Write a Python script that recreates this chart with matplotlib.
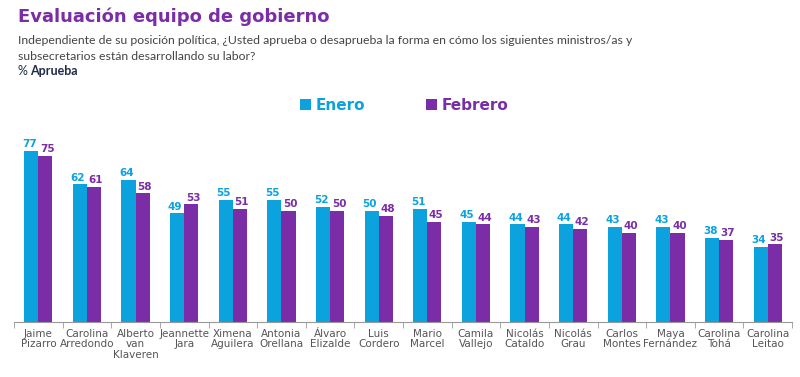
import numpy as np
import matplotlib.pyplot as plt

nombres = ["Jaime\nPizarro", "Carolina\nArredondo", "Alberto\nvan\nKlaveren", "Jeannette\nJara",
           "Ximena\nAguilera", "Antonia\nOrellana", "Álvaro\nElizalde", "Luis\nCordero",
           "Mario\nMarcel", "Camila\nVallejo", "Nicolás\nCataldo", "Nicolás\nGrau",
           "Carlos\nMontes", "Maya\nFernández", "Carolina\nTohá", "Carolina\nLeitao"]
enero = [77, 62, 64, 49, 55, 55, 52, 50, 51, 45, 44, 44, 43, 43, 38, 34]
febrero = [75, 61, 58, 53, 51, 50, 50, 48, 45, 44, 43, 42, 40, 40, 37, 35]

AZUL = "#0BA2DE"
MORADO = "#7A2DA6"

fig = plt.figure(figsize=(8, 3.77), dpi=100)
ax = fig.add_axes([0.0175, 0.146, 0.9725, 0.50])

x = np.arange(len(nombres))
w = 0.29
b1 = ax.bar(x - w / 2, enero, w, color=AZUL)
b2 = ax.bar(x + w / 2, febrero, w, color=MORADO)

for xi, v in zip(x, enero):
    ax.text(xi - w / 2 - 0.04, v + 0.8, str(v), ha="center", va="bottom", color=AZUL,
            fontsize=7.5, fontweight="bold")
for xi, v in zip(x, febrero):
    ax.text(xi + w / 2 + 0.04, v + 0.8, str(v), ha="center", va="bottom", color=MORADO,
            fontsize=7.5, fontweight="bold")

ax.set_xlim(-0.5, len(nombres) - 0.5)
ax.set_ylim(0, 85)
ax.set_xticks(x)
ax.set_xticklabels(nombres, fontsize=7.5, color="#555555", linespacing=1.05)
ax.tick_params(axis="x", length=0, pad=5)
ax.set_xticks(np.arange(len(nombres) + 1) - 0.5, minor=True)
ax.tick_params(axis="x", which="minor", length=4, color="#999999")
ax.set_yticks([])
for s in ["top", "right", "left"]:
    ax.spines[s].set_visible(False)
ax.spines["bottom"].set_color("#999999")

fig.text(0.022, 0.955, "Evaluación equipo de gobierno", fontsize=13, fontweight="bold",
         color="#7A2DA6", va="center")
fig.text(0.022, 0.893, "Independiente de su posición política, ¿Usted aprueba o desaprueba la forma en cómo los siguientes ministros/as y",
         fontsize=8.8, color="#444444", va="center", family="Lato")
fig.text(0.022, 0.851, "subsecretarios están desarrollando su labor?",
         fontsize=8.8, color="#444444", va="center", family="Lato")
fig.text(0.022, 0.812, "% ", fontsize=9, color="#1E2A4A", va="center", family="Lato")
fig.text(0.038, 0.812, "Aprueba", fontsize=9, color="#1E2A4A", va="center", family="Lato",
         fontweight="bold")

leg = fig.legend([b1, b2], ["Enero", "Febrero"], loc="center", bbox_to_anchor=(0.505, 0.72),
                 ncol=2, frameon=False, handlelength=0.7, handleheight=0.7,
                 columnspacing=4.0, handletextpad=0.3,
                 prop={"size": 11, "weight": "bold"})
for t, c in zip(leg.get_texts(), [AZUL, MORADO]):
    t.set_color(c)

fig.savefig("out.png", dpi=100)
